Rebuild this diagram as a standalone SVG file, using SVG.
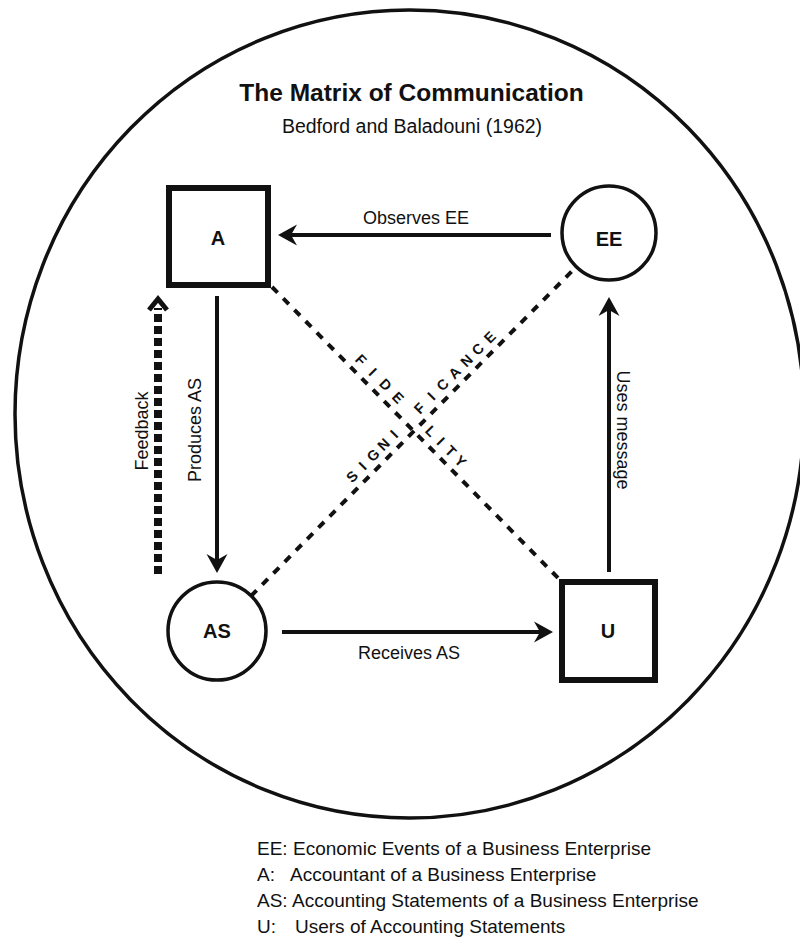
<svg xmlns="http://www.w3.org/2000/svg" width="800" height="939" viewBox="0 0 800 939">
<style>
text{font-family:"Liberation Sans",Arial,sans-serif;fill:#111}
.title{font-size:24.5px;font-weight:bold;text-anchor:middle}
.sub{font-size:19.5px;text-anchor:middle}
.node{font-size:20px;font-weight:bold;text-anchor:middle}
.lbl{font-size:18px;text-anchor:middle}
.diag{font-size:14.5px;font-weight:bold;text-anchor:middle}
.leg{font-size:19px}
.box{fill:#fff;stroke:#111;stroke-width:6}
.circ{fill:#fff;stroke:#111;stroke-width:3.5}
.arrow{fill:none;stroke:#111;stroke-width:4}
.dash{fill:none;stroke:#111;stroke-width:4;stroke-dasharray:8 8}
.fb{fill:none;stroke:#111;stroke-width:8;stroke-dasharray:8 4}
</style>
<defs>
<marker id="ah" markerUnits="userSpaceOnUse" markerWidth="30" markerHeight="30" viewBox="-22 -12 30 24" refX="-8" refY="0" orient="auto">
<path d="M0,0 L-19,-10.5 L-13,0 L-19,10.5 Z" fill="#111"/>
</marker>
</defs>
<rect width="800" height="939" fill="#fff"/>
<ellipse cx="409.5" cy="414" rx="394.5" ry="404" fill="none" stroke="#111" stroke-width="3.5"/>
<text class="title" x="411.5" y="101">The Matrix of Communication</text>
<text class="sub" x="412" y="133">Bedford and Baladouni (1962)</text>

<g id="connectors">
<path class="dash" d="M272,287 L560,580"/>
<path class="dash" d="M251,596 L576,267"/>
<path class="arrow" marker-end="url(#ah)" d="M551,235 L286,235"/>
<path class="arrow" marker-end="url(#ah)" d="M217,296 L217,565"/>
<path class="arrow" marker-end="url(#ah)" d="M282,632 L545,632"/>
<path class="arrow" marker-end="url(#ah)" d="M609,572 L609,305"/>
<path class="fb" d="M158,574 L158,308"/>
<path d="M149,310 L158,299 L167,310" fill="none" stroke="#111" stroke-width="5"/>
<text class="lbl" x="416" y="224">Observes EE</text>
<text class="lbl" x="409" y="659">Receives AS</text>
<text class="lbl" transform="translate(201,430) rotate(-90)">Produces AS</text>
<text class="lbl" transform="translate(148,431) rotate(-90)">Feedback</text>
<text class="lbl" transform="translate(617,430) rotate(90)">Uses message</text>
<g transform="translate(414,431) rotate(45.5)">
<text class="diag" x="-88 -71 -53 -35" y="-7">FIDE</text>
<text class="diag" x="12 26 40 54" y="-7">LITY</text>
</g>
<g transform="translate(414,431) rotate(-45.35)">
<text class="diag" x="-76 -61 -46 -31 -16" y="-7">SIGNI</text>
<text class="diag" x="20 37 53 70 87 103 120" y="-7">FICANCE</text>
</g>
</g>

<g id="node-A">
<rect class="box" x="169" y="188" width="99" height="97"/>
<text class="node" x="218" y="245">A</text>
</g>
<g id="node-EE">
<circle class="circ" cx="609" cy="233" r="47"/>
<text class="node" x="609" y="246">EE</text>
</g>
<g id="node-AS">
<circle class="circ" cx="217" cy="631" r="49"/>
<text class="node" x="217" y="638">AS</text>
</g>
<g id="node-U">
<rect class="box" x="562" y="582" width="93" height="98"/>
<text class="node" x="608" y="638">U</text>
</g>

<g id="legend">
<text class="leg" x="257" y="855">EE:</text><text class="leg" x="293" y="855">Economic Events of a Business Enterprise</text>
<text class="leg" x="257" y="881">A:</text><text class="leg" x="290" y="881">Accountant of a Business Enterprise</text>
<text class="leg" x="257" y="907">AS:</text><text class="leg" x="292" y="907">Accounting Statements of a Business Enterprise</text>
<text class="leg" x="257" y="933">U:</text><text class="leg" x="295" y="933">Users of Accounting Statements</text>
</g>
</svg>
